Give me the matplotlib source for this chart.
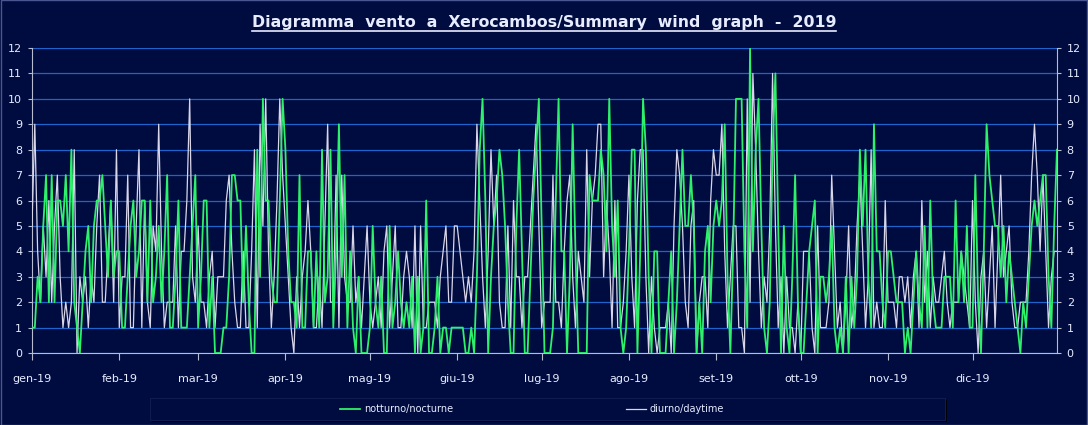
import matplotlib
matplotlib.use("Agg")
import matplotlib.pyplot as plt
from matplotlib.lines import Line2D
from matplotlib.patches import Rectangle
import numpy as np

# Daily wind force (Beaufort) 2019 - Xerocambos
months = ["gen-19", "feb-19", "mar-19", "apr-19", "mag-19", "giu-19",
          "lug-19", "ago-19", "set-19", "ott-19", "nov-19", "dic-19"]
days_in_month = [31, 28, 31, 30, 31, 30, 31, 31, 30, 31, 30, 31]

notturno = {
    "gen": [1, 1, 3, 2, 5, 7, 2, 7, 2, 6, 6, 5, 7, 4, 8, 2, 1, 0, 2, 4, 5, 2, 5, 6, 6, 7, 5, 3, 6, 3, 4],
    "feb": [4, 1, 1, 3, 5, 6, 3, 4, 6, 6, 2, 6, 2, 3, 5, 2, 4, 7, 1, 1, 3, 6, 1, 1, 1, 3, 5, 7],
    "mar": [1, 3, 6, 6, 1, 3, 0, 0, 0, 1, 1, 3, 7, 7, 6, 6, 2, 5, 2, 0, 0, 8, 3, 10, 6, 6, 3, 2, 2, 6, 10],
    "apr": [8, 4, 2, 2, 1, 7, 1, 1, 4, 4, 1, 4, 1, 8, 2, 3, 8, 1, 4, 9, 3, 7, 1, 4, 1, 0, 3, 0, 0, 0],
    "mag": [1, 5, 2, 1, 3, 0, 0, 5, 1, 2, 4, 2, 1, 2, 1, 3, 0, 3, 0, 1, 6, 0, 0, 1, 3, 0, 1, 1, 0, 1, 1],
    "giu": [1, 1, 1, 0, 0, 1, 0, 3, 8, 10, 6, 0, 3, 5, 6, 8, 7, 5, 2, 0, 0, 5, 8, 4, 0, 0, 3, 6, 8, 10],
    "lug": [5, 0, 0, 0, 1, 6, 10, 4, 4, 0, 3, 9, 4, 0, 0, 0, 0, 7, 6, 6, 6, 8, 7, 4, 10, 5, 3, 6, 1, 0, 1],
    "ago": [4, 8, 8, 0, 4, 10, 8, 3, 0, 4, 4, 0, 0, 0, 2, 4, 0, 2, 5, 8, 5, 5, 7, 5, 0, 2, 0, 4, 5, 2, 5],
    "set": [6, 5, 6, 9, 3, 0, 4, 10, 10, 10, 4, 1, 12, 4, 8, 10, 5, 1, 0, 2, 8, 11, 5, 0, 5, 1, 0, 3, 7, 2],
    "ott": [0, 0, 2, 4, 5, 6, 0, 3, 3, 2, 3, 5, 1, 0, 1, 0, 3, 0, 3, 1, 3, 8, 5, 8, 3, 1, 9, 4, 4, 2, 1],
    "nov": [4, 4, 3, 2, 2, 2, 0, 1, 0, 2, 4, 2, 1, 5, 1, 6, 2, 1, 1, 1, 3, 3, 3, 1, 6, 2, 4, 2, 5, 1],
    "dic": [1, 7, 2, 0, 4, 9, 7, 6, 5, 5, 3, 5, 2, 4, 3, 2, 1, 0, 2, 1, 3, 5, 6, 5, 6, 7, 7, 3, 1, 5, 8],
}

diurno = {
    "gen": [5, 9, 4, 2, 5, 3, 6, 2, 5, 7, 3, 1, 2, 1, 2, 8, 0, 3, 2, 3, 1, 3, 2, 5, 7, 2, 2, 4, 6, 2, 8],
    "feb": [1, 3, 3, 7, 1, 1, 5, 8, 1, 6, 2, 1, 5, 4, 9, 4, 1, 2, 2, 2, 5, 1, 4, 4, 6, 10, 3, 2],
    "mar": [5, 2, 2, 1, 3, 4, 1, 3, 3, 3, 6, 7, 4, 2, 1, 1, 4, 1, 1, 4, 8, 1, 9, 5, 10, 4, 1, 3, 6, 10, 7],
    "apr": [5, 3, 1, 0, 3, 1, 3, 4, 6, 4, 1, 1, 3, 1, 5, 9, 2, 2, 7, 1, 7, 3, 2, 2, 5, 2, 3, 1, 3, 5],
    "mag": [2, 1, 2, 3, 1, 4, 5, 1, 3, 5, 1, 1, 3, 4, 3, 1, 5, 0, 5, 1, 1, 2, 2, 2, 1, 3, 4, 5, 2, 2, 5],
    "giu": [5, 4, 3, 2, 3, 2, 4, 9, 6, 3, 1, 4, 8, 5, 7, 2, 1, 1, 5, 1, 6, 3, 3, 1, 3, 3, 5, 7, 9, 5],
    "lug": [1, 2, 2, 2, 7, 2, 2, 1, 4, 6, 7, 3, 1, 4, 3, 2, 8, 3, 6, 7, 9, 9, 3, 6, 4, 1, 6, 1, 1, 2, 4],
    "ago": [7, 3, 1, 6, 8, 8, 3, 0, 3, 1, 0, 1, 1, 1, 2, 0, 5, 8, 7, 5, 2, 1, 5, 6, 0, 2, 3, 3, 1, 6, 8],
    "set": [7, 7, 9, 4, 1, 3, 5, 5, 1, 1, 0, 10, 2, 11, 8, 4, 1, 3, 2, 5, 11, 5, 1, 3, 0, 3, 1, 1, 0, 2],
    "ott": [0, 4, 4, 4, 1, 0, 5, 1, 1, 1, 2, 7, 4, 1, 2, 0, 2, 5, 1, 2, 5, 7, 4, 1, 3, 8, 1, 2, 1, 1, 6],
    "nov": [2, 2, 2, 1, 3, 3, 2, 3, 1, 3, 4, 1, 6, 2, 4, 1, 3, 2, 2, 3, 4, 2, 1, 2, 2, 2, 4, 3, 2, 1],
    "dic": [6, 2, 0, 3, 4, 1, 3, 5, 1, 4, 7, 3, 4, 5, 2, 1, 1, 2, 2, 2, 4, 7, 9, 7, 4, 7, 4, 1, 3, 4, 4],
}

night = np.concatenate(list(notturno.values()))
day = np.concatenate(list(diurno.values()))
x = np.arange(len(night))
month_starts = np.concatenate([[0], np.cumsum(days_in_month)[:-1]])

BG = "#000c3f"
GRID = "#1f63cc"
GREEN = "#2ef06a"
WHITE = "#d9d6ea"
TXT = "#e8ecff"

fig = plt.figure(figsize=(10.88, 4.25), dpi=100, facecolor=BG)
ax = fig.add_axes([0.0294, 0.1694, 0.9421, 0.7176], facecolor=BG)

ax.plot(x, day, color=WHITE, lw=0.9, zorder=3)
ax.plot(x, night, color=GREEN, lw=1.3, zorder=4)

ax.set_xlim(0, len(night) - 1)
ax.set_ylim(0, 12)
ax.set_yticks(range(0, 13))
ax.yaxis.grid(True, color=GRID, lw=0.9)
ax.set_axisbelow(True)
ax.set_xticks(month_starts)
ax.set_xticklabels(months)
ax.tick_params(axis="x", colors="#b8bcd0", labelcolor=TXT, labelsize=8,
               length=5, direction="out", pad=10)
ax.tick_params(axis="y", colors="#b8bcd0", labelcolor=TXT, labelsize=8,
               length=3, labelright=True, right=True, pad=4)
for side in ["left", "right", "bottom"]:
    ax.spines[side].set_color("#b8bcd0")
    ax.spines[side].set_linewidth(0.8)
ax.spines["top"].set_visible(False)

title = fig.text(0.5, 0.948, "Diagramma  vento  a  Xerocambos/Summary  wind  graph  -  2019",
                 ha="center", va="center", color=TXT, fontsize=11.3, fontweight="bold")

# legend box drawn by hand, Excel style
lx0, ly0, lw, lh = 150 / 1088, 5 / 425, 795 / 1088, 22 / 425
fig.add_artist(Rectangle((lx0 + 2 / 1088, ly0 - 2 / 425), lw, lh, transform=fig.transFigure,
                         facecolor="black", edgecolor="none", zorder=1))
fig.add_artist(Rectangle((lx0, ly0), lw, lh, transform=fig.transFigure,
                         facecolor=BG, edgecolor="#101c50", lw=0.8, zorder=2))
ly = ly0 + lh / 2
fig.add_artist(Line2D([340 / 1088, 360 / 1088], [ly, ly], color=GREEN, lw=1.3, zorder=3))
fig.text(364 / 1088, ly, "notturno/nocturne", color=TXT, fontsize=7, va="center", zorder=3)
fig.add_artist(Line2D([626 / 1088, 646 / 1088], [ly, ly], color=WHITE, lw=0.9, zorder=3))
fig.text(650 / 1088, ly, "diurno/daytime", color=TXT, fontsize=7, va="center", zorder=3)

# outer chart border
fig.add_artist(Rectangle((0.0005, 0.001), 0.999, 0.998, transform=fig.transFigure,
                         facecolor="none", edgecolor="#4a5690", lw=1))

# underline the title
fig.canvas.draw()
bb = title.get_window_extent().transformed(fig.transFigure.inverted())
fig.add_artist(Line2D([bb.x0, bb.x1], [bb.y0 - 0.004, bb.y0 - 0.004], color=TXT, lw=1.2))

fig.savefig("out.png", dpi=100, facecolor=BG)
